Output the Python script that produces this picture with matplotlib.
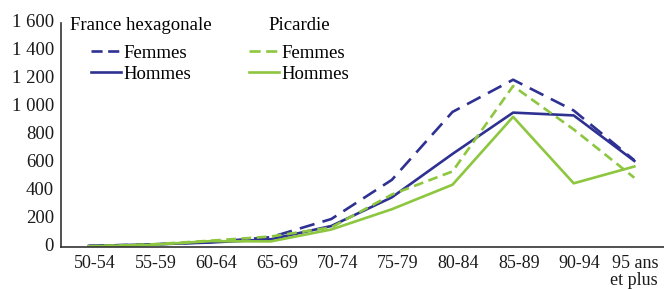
import numpy as np
import matplotlib
matplotlib.use("Agg")
import matplotlib.pyplot as plt
from matplotlib.lines import Line2D
from matplotlib.transforms import ScaledTranslation

plt.rcParams['font.family'] = ['Liberation Serif', 'DejaVu Serif']
plt.rcParams['lines.scale_dashes'] = False

# Age groups and rates
ages = ["50-54", "55-59", "60-64", "65-69", "70-74", "75-79",
        "80-84", "85-89", "90-94", "95 ans\net plus"]
france_femmes = [8, 18, 35, 70, 200, 480, 965, 1195, 975, 620]
france_hommes = [8, 18, 32, 55, 150, 355, 665, 960, 940, 615]
picardie_femmes = [5, 18, 45, 75, 140, 375, 540, 1150, 840, 495]
picardie_hommes = [5, 15, 42, 40, 125, 270, 445, 930, 455, 575]

navy = "#2e3192"
green = "#8dc63f"

fig = plt.figure(figsize=(6.64, 2.89), dpi=100)
ax = fig.add_axes([0.0919, 0.1453, 0.9081, 0.775])

x = np.arange(len(ages))
ax.plot(x, france_femmes, color=navy, lw=1.9, dashes=(11, 6))
ax.plot(x, france_hommes, color=navy, lw=1.9)
ax.plot(x, picardie_femmes, color=green, lw=1.9, dashes=(7, 4))
ax.plot(x, picardie_hommes, color=green, lw=1.9)

ax.set_xlim(-0.46, 9.49)
ax.set_ylim(0, 1600)
ax.set_yticks(range(0, 1601, 200))
ax.set_yticklabels(["0", "200", "400", "600", "800", "1 000", "1 200", "1 400", "1 600"])
ax.set_xticks(x)
ax.set_xticklabels(ages, multialignment='right')
ax.tick_params(axis='both', length=0, labelsize=13.5, colors="#1a1a1a")
ax.tick_params(axis='x', pad=6, labelsize=13)
ax.tick_params(axis='y', pad=5)

# nudge labels like the original layout
dx = ScaledTranslation(6 / 100, 0, fig.dpi_scale_trans)
for lbl in ax.get_xticklabels()[:-1]:
    lbl.set_transform(lbl.get_transform() + dx)
last = ax.get_xticklabels()[-1]
last.set_linespacing(0.95)
dy = ScaledTranslation(0, 3 / 100, fig.dpi_scale_trans)
for lbl in ax.get_yticklabels():
    lbl.set_transform(lbl.get_transform() + dy)

for side in ["top", "right"]:
    ax.spines[side].set_visible(False)
for side in ["left", "bottom"]:
    ax.spines[side].set_color("#333333")
    ax.spines[side].set_linewidth(1.2)

leg_kw = dict(frameon=False, fontsize=13.5, title_fontsize=13.5, loc='upper center',
              handlelength=1.6, handletextpad=0.1, labelspacing=0.2, borderpad=0,
              borderaxespad=0)
leg1 = ax.legend([Line2D([], [], color=navy, lw=1.9, dashes=(8, 4)),
                  Line2D([], [], color=navy, lw=1.9)],
                 ["Femmes", "Hommes"], title="France hexagonale",
                 bbox_to_anchor=(0.133, 1.025), **leg_kw)
leg1._legend_box.sep = 7.5
ax.add_artist(leg1)
leg2 = ax.legend([Line2D([], [], color=green, lw=1.9, dashes=(8, 4)),
                  Line2D([], [], color=green, lw=1.9)],
                 ["Femmes", "Hommes"], title="Picardie",
                 bbox_to_anchor=(0.395, 1.025), **leg_kw)
leg2._legend_box.sep = 7.5

fig.savefig("out.png", dpi=100)
